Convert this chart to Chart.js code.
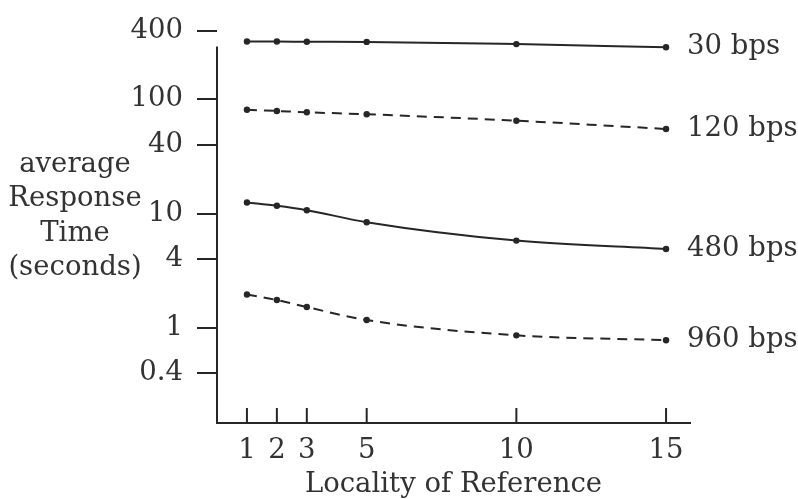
<!DOCTYPE html>
<html>
<head>
<meta charset="utf-8">
<script src="https://cdn.jsdelivr.net/npm/chart.js@4.4.0/dist/chart.umd.min.js"></script>
<style>
  html, body { margin: 0; padding: 0; background: #ffffff; }
  #wrap { width: 798px; height: 499px; }
</style>
</head>
<body>
<div id="wrap"><canvas id="c" width="798" height="499"></canvas></div>
<script>
// ---- data ----
const localities = [1, 2, 3, 5, 10, 15];
const resp30bps  = [320, 320, 319, 318, 304, 285];
const resp120bps = [81, 79, 77, 74, 65, 55];
const resp480bps = [12.5, 11.7, 10.7, 8.4, 5.8, 4.9];
const resp960bps = [1.96, 1.75, 1.52, 1.17, 0.86, 0.78];
const seriesNames = ['30 bps', '120 bps', '480 bps', '960 bps'];
const yTickValues = [0.4, 1, 4, 10, 40, 100, 400];
const xTickValues = [1, 2, 3, 5, 10, 15];
const xTitleText = 'Locality of Reference';
const yTitleLines = ['average', 'Response', 'Time', '(seconds)'];

// ---- styling ----
const INK = '#262626';
const TEXT = '#333333';
const FONT_FAMILY = '"DejaVu Serif", serif';
const FONT_SIZE = 27.5;

Chart.defaults.font.family = FONT_FAMILY;
Chart.defaults.font.size = FONT_SIZE;
Chart.defaults.color = TEXT;

function series(values, name, dashed) {
  return {
    label: name,
    data: localities.map((x, i) => ({ x: x, y: values[i] })),
    borderColor: INK,
    backgroundColor: INK,
    borderWidth: 2,
    borderDash: dashed ? [10, 7] : [],
    pointRadius: 3.2,
    pointHoverRadius: 3.2,
    pointBackgroundColor: INK,
    pointBorderWidth: 0,
    cubicInterpolationMode: 'monotone',
    fill: false,
    clip: false
  };
}

const decorPlugin = {
  id: 'decor',
  afterDraw(chart) {
    const ctx = chart.ctx;
    const xs = chart.scales.x;
    const ys = chart.scales.y;
    const area = chart.chartArea;
    ctx.save();
    ctx.strokeStyle = INK;
    ctx.lineWidth = 2;
    ctx.setLineDash([]);
    // vertical axis line (starts a little below the top tick, as in the reference)
    ctx.beginPath();
    ctx.moveTo(area.left, ys.getPixelForValue(290));
    ctx.lineTo(area.left, area.bottom + 1);
    ctx.stroke();
    // x tick marks pointing inward
    xTickValues.forEach(v => {
      const px = xs.getPixelForValue(v);
      ctx.beginPath();
      ctx.moveTo(px, area.bottom);
      ctx.lineTo(px, area.bottom - 15);
      ctx.stroke();
    });
    // series labels at the right end
    ctx.fillStyle = TEXT;
    ctx.font = FONT_SIZE + 'px ' + FONT_FAMILY;
    ctx.textAlign = 'left';
    ctx.textBaseline = 'middle';
    chart.data.datasets.forEach((ds, i) => {
      const meta = chart.getDatasetMeta(i);
      const last = meta.data[meta.data.length - 1];
      ctx.fillText(ds.label, last.x + 21, last.y);
    });
    // y title (horizontal stacked lines)
    ctx.textAlign = 'center';
    ctx.textBaseline = 'alphabetic';
    const cx = 75;
    const baseY = ys.getPixelForValue(40) + 27;
    yTitleLines.forEach((t, i) => ctx.fillText(t, cx, baseY + i * 34.5));
    ctx.restore();
  }
};

new Chart(document.getElementById('c'), {
  type: 'line',
  data: {
    datasets: [
      series(resp30bps, seriesNames[0], false),
      series(resp120bps, seriesNames[1], true),
      series(resp480bps, seriesNames[2], false),
      series(resp960bps, seriesNames[3], true)
    ]
  },
  options: {
    responsive: false,
    devicePixelRatio: 1,
    animation: false,
    layout: { padding: { left: 0, right: 108, top: 27, bottom: 0 } },
    plugins: { legend: { display: false }, tooltip: { enabled: false } },
    scales: {
      x: {
        type: 'linear',
        min: 0,
        max: 15.8,
        afterBuildTicks: s => { s.ticks = xTickValues.map(v => ({ value: v })); },
        afterFit: s => { s.height = 76; },
        ticks: { callback: v => String(v), autoSkip: false, maxRotation: 0, padding: 11, color: TEXT },
        grid: { display: true, drawOnChartArea: false, drawTicks: false },
        border: { display: true, color: INK, width: 2 },
        title: { display: true, text: xTitleText, color: TEXT, padding: { top: 0, bottom: -2 } }
      },
      y: {
        type: 'logarithmic',
        min: 0.147,
        max: 400,
        afterBuildTicks: s => { s.ticks = yTickValues.map(v => ({ value: v })); },
        afterFit: s => { s.width = 217; },
        ticks: { callback: v => String(v), autoSkip: false, padding: 14, color: TEXT },
        grid: { drawOnChartArea: false, drawTicks: true, tickLength: 20, lineWidth: 2, color: INK },
        border: { display: false }
      }
    }
  },
  plugins: [decorPlugin]
});
</script>
</body>
</html>
